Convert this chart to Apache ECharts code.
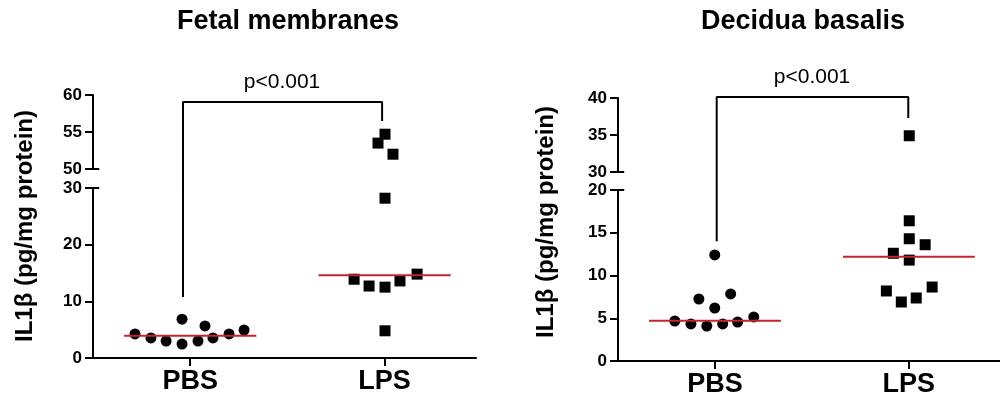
<!DOCTYPE html>
<html>
<head>
<meta charset="utf-8">
<script src="https://cdn.jsdelivr.net/npm/echarts@6/dist/echarts.min.js"></script>
</head>
<body style="margin:0;background:#fff">
<div id="main" style="width:1000px;height:404px"></div>
<script>
// groups on the x axis
const cats = ['PBS', 'LPS'];

// Fetal membranes: x = jittered position around group (1 = PBS, 2 = LPS)
const fmPbsX = [0.716, 0.798, 0.876, 0.958, 0.958, 1.040, 1.076, 1.117, 1.200, 1.277];
const fmPbsY = [4.24, 3.55, 3.0, 6.85, 2.45, 3.0, 5.65, 3.55, 4.24, 4.94];
const fmLpsX = [2.002, 1.966, 2.043, 2.002, 1.843, 1.920, 2.002, 2.079, 2.167, 2.002];
const fmLpsY = [54.7, 53.5, 52.0, 28.2, 13.9, 12.7, 12.5, 13.6, 14.8, 4.8];
const fmMedian = [3.94, 14.6];

// Decidua basalis
const ddPbsX = [0.793, 0.876, 0.917, 0.958, 0.999, 0.999, 1.040, 1.081, 1.117, 1.200];
const ddPbsY = [4.68, 4.33, 7.25, 4.09, 12.4, 6.2, 4.33, 7.84, 4.56, 5.15];
const ddLpsX = [2.002, 2.002, 2.084, 1.920, 2.002, 1.884, 1.961, 2.038, 2.120, 2.002];
const ddLpsY = [16.4, 14.3, 13.6, 12.6, 11.8, 8.19, 6.9, 7.37, 8.65, 34.9];
const ddMedian = [4.71, 12.2];

// broken y axes: [min, max, interval]
const fmLow = [0, 30, 10], fmHigh = [50, 60, 5];
const ddLow = [0, 20, 5], ddHigh = [30, 40, 5];

// significance brackets: [leftX, leftBottom, rightX, rightBottom, top, gapBottom]
const fmBracket = [0.963, 10.76, 1.987, 56.5, 59.05, 47.43];
const ddBracket = [1.009, 14.0, 1.997, 37.3, 40.14, 27.57];

const X_MIN = 0.5, X_MAX = 2.47;
const black = '#000';
const lineSt = { color: black, width: 2 };

const chart = echarts.init(document.getElementById('main'));

const grids = [], xAxes = [], yAxes = [], series = [];

function zip(xs, ys) { return xs.map((x, i) => [x, ys[i]]); }

function addPanel(left, upTop, upH, lowTop, lowH, high, low, pbsX, pbsY, lpsX, lpsY, median, br) {
  const up = grids.length, lo = up + 1;
  grids.push({ left: left, top: upTop, width: 383, height: upH });
  grids.push({ left: left, top: lowTop, width: 383, height: lowH });

  xAxes.push({ gridIndex: up, type: 'value', min: X_MIN, max: X_MAX, show: false });
  xAxes.push({
    gridIndex: lo, type: 'value', min: X_MIN, max: X_MAX,
    axisLine: { show: true, onZero: false, lineStyle: lineSt },
    axisTick: { show: true, customValues: [1, 2], length: 8, lineStyle: lineSt },
    axisLabel: {
      customValues: [1, 2], formatter: v => cats[Math.round(v) - 1],
      color: black, fontFamily: 'Arial', fontWeight: 'bold', fontSize: 27, margin: 10
    },
    splitLine: { show: false }
  });

  [[up, high], [lo, low]].forEach(([gi, r]) => {
    yAxes.push({
      gridIndex: gi, type: 'value', min: r[0], max: r[1], interval: r[2],
      axisLine: { show: true, onZero: false, lineStyle: lineSt },
      axisTick: { show: true, length: 8, lineStyle: lineSt },
      axisLabel: { color: black, fontFamily: 'Arial', fontWeight: 'bold', fontSize: 17, margin: 11 },
      splitLine: { show: false }
    });
  });

  const pbs = zip(pbsX, pbsY), lps = zip(lpsX, lpsY);
  const mark = { color: black, opacity: 1 };
  const dot = { type: 'scatter', symbol: 'circle', symbolSize: 11, itemStyle: mark, z: 3 };
  const sq = { type: 'scatter', symbol: 'rect', symbolSize: 11, itemStyle: mark, z: 3 };
  series.push(Object.assign({ xAxisIndex: lo, yAxisIndex: lo, data: pbs.filter(p => p[1] <= low[1]) }, dot));
  series.push(Object.assign({ xAxisIndex: up, yAxisIndex: up, data: pbs.filter(p => p[1] >= high[0]) }, dot));
  series.push(Object.assign({ xAxisIndex: lo, yAxisIndex: lo, data: lps.filter(p => p[1] <= low[1]) }, sq));
  series.push(Object.assign({ xAxisIndex: up, yAxisIndex: up, data: lps.filter(p => p[1] >= high[0]) }, sq));

  const plain = { type: 'line', symbol: 'none', silent: true, clip: false, lineStyle: lineSt, z: 2 };
  // medians
  median.forEach((m, i) => {
    series.push(Object.assign({}, plain, {
      xAxisIndex: lo, yAxisIndex: lo, z: 5,
      lineStyle: { color: '#c8232c', width: 2 },
      data: [[i + 1 - 0.34, m], [i + 1 + 0.34, m]]
    }));
  });
  // bracket
  series.push(Object.assign({}, plain, {
    xAxisIndex: lo, yAxisIndex: lo,
    data: [[br[0], br[1]], [br[0], low[1]]]
  }));
  series.push(Object.assign({}, plain, {
    xAxisIndex: up, yAxisIndex: up,
    data: [[br[0], br[5]], [br[0], br[4]], [br[2], br[4]], [br[2], br[3]]]
  }));
  // axis break marks
  series.push(Object.assign({}, plain, { xAxisIndex: up, yAxisIndex: up, data: [[X_MIN, high[0]], [X_MIN + 0.032, high[0]]] }));
  series.push(Object.assign({}, plain, { xAxisIndex: lo, yAxisIndex: lo, data: [[X_MIN, low[1]], [X_MIN + 0.032, low[1]]] }));
}

addPanel(93, 95, 74, 188, 170, fmHigh, fmLow, fmPbsX, fmPbsY, fmLpsX, fmLpsY, fmMedian, fmBracket);
addPanel(618, 98, 74, 190, 171, ddHigh, ddLow, ddPbsX, ddPbsY, ddLpsX, ddLpsY, ddMedian, ddBracket);

function txt(x, y, text, font, rot) {
  return {
    type: 'text', x: x, y: y, rotation: rot || 0, z: 10,
    style: { text: text, font: font, fill: black, align: 'center', verticalAlign: 'middle', textAlign: 'center', textVerticalAlign: 'middle' }
  };
}

chart.setOption({
  animation: false,
  grid: grids,
  xAxis: xAxes,
  yAxis: yAxes,
  series: series,
  graphic: [
    txt(288, 22, 'Fetal membranes', 'bold 27px Arial, "Liberation Sans"'),
    txt(803, 22, 'Decidua basalis', 'bold 27px Arial, "Liberation Sans"'),
    txt(282, 82, 'p<0.001', '21px Arial, "Liberation Sans"'),
    txt(812, 77, 'p<0.001', '21px Arial, "Liberation Sans"'),
    txt(25, 226, 'IL1β (pg/mg protein)', 'bold 24px Arial, "Liberation Sans"', Math.PI / 2),
    txt(546, 222, 'IL1β (pg/mg protein)', 'bold 24px Arial, "Liberation Sans"', Math.PI / 2)
  ]
});
</script>
</body>
</html>
